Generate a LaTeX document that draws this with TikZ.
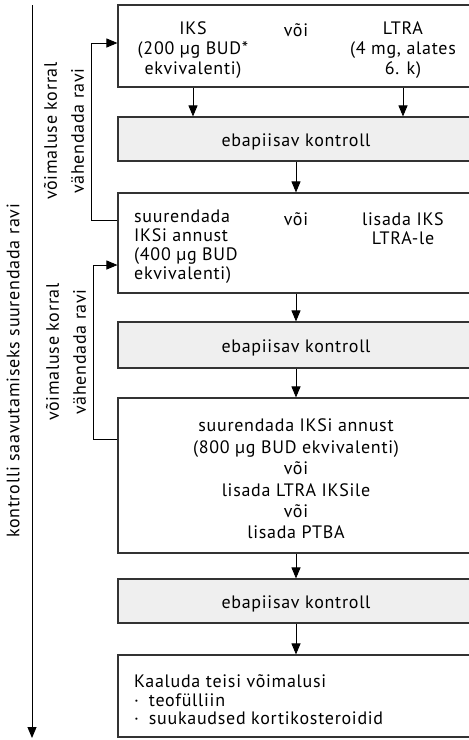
\documentclass[tikz,border=0pt]{standalone}
\usepackage{fontspec}
\setmainfont{PT Sans}[LetterSpace=4]
\usetikzlibrary{arrows.meta}
\definecolor{lineclr}{HTML}{333333}
\definecolor{grayfill}{HTML}{EFEFEF}
\newcommand{\fs}[1]{\fontsize{18}{#1}\selectfont}
\tikzset{
  box/.style={draw=lineclr, line width=1.1pt, rectangle, minimum width=356pt, inner sep=0pt},
  graybox/.style={box, fill=grayfill},
  txt/.style={font=\fs{20}, inner sep=0pt, align=center},
  txtl/.style={font=\fs{19}, inner sep=0pt, align=left},
  arr/.style={draw=black, line width=0.9pt, -{Triangle[length=11pt,width=9pt]}},
  side/.style={font=\fs{27}, inner sep=0pt, align=center, rotate=90},
}
\begin{document}
\begin{tikzpicture}[x=1pt, y=-1pt]
\useasboundingbox (0,0) rectangle (469,740);
% boxes
\node[box, minimum height=82pt] (b1) at (296,46) {};
\node[graybox, minimum height=44pt] (g1) at (296,139) {};
\node[box, minimum height=100pt] (b2) at (296,243) {};
\node[graybox, minimum height=46pt] (g2) at (296,345) {};
\node[box, minimum height=155pt] (b3) at (296,475.5) {};
\node[graybox, minimum height=44pt] (g3) at (296,601) {};
\node[box, minimum height=82pt] (b4) at (296,696) {};
% texts box 1
\node[txt] (iks) at (193,50) {IKS\\(200 µg BUD*\\ekvivalenti)};
\node[txt] (voi1) at (296,30) {või};
\node[txt] (ltra) at (403,50) {LTRA\\(4 mg, alates\\6. k)};
% gray texts
\node[txt] (e1) at (296,142) {ebapiisav kontroll};
\node[txt] (e2) at (296,348) {ebapiisav kontroll};
\node[txt] (e3) at (296,604) {ebapiisav kontroll};
% box 2 texts
\node[txtl, anchor=west] (sur) at (134,247) {suurendada\\IKSi annust\\(400 µg BUD\\ekvivalenti)};
\node[txt] (voi2) at (296,219) {või};
\node[txt, font=\fs{19}] (lis) at (403,229) {lisada IKS\\LTRA-le};
% box 3
\node[txt, font=\fs{21.4}] (b3t) at (296,479) {suurendada IKSi annust\\(800 µg BUD ekvivalenti)\\või\\lisada LTRA IKSile\\või\\lisada PTBA};
% box 4
\node[txtl, anchor=west, font=\fs{18.5}] (b4t) at (134,700) {Kaaluda teisi võimalusi\\·\hskip0.55em teofülliin\\·\hskip0.55em suukaudsed kortikosteroidid};
% vertical arrows
\draw[arr] (iks |- b1.south) -- (iks |- g1.north);
\draw[arr] (ltra |- b1.south) -- (ltra |- g1.north);
\draw[arr] (g1.south) -- (b2.north);
\draw[arr] (b2.south) -- (g2.north);
\draw[arr] (g2.south) -- (b3.north);
\draw[arr] (b3.south) -- (g3.north);
\draw[arr] (g3.south) -- (b4.north);
% feedback loops
\coordinate (l1a) at (91,220);
\coordinate (l1b) at (91,43);
\draw[arr] (b2.west |- l1a) -- (l1a) -- (l1b) -- (b1.west |- l1b);
\coordinate (l2a) at (93,439);
\coordinate (l2b) at (93,265);
\draw[arr] (b3.west |- l2a) -- (l2a) -- (l2b) -- (b2.west |- l2b);
\node[side] (s1) at (64,131) {võimaluse korral\\vähendada ravi};
\node[side] (s2) at (66,352) {võimaluse korral\\vähendada ravi};
% long arrow
\coordinate (lt) at (32,5);
\coordinate (lb) at (32,738);
\draw[arr] (lt) -- (lb);
\node[side] (main) at (13,371) {kontrolli saavutamiseks suurendada ravi};
\end{tikzpicture}
\end{document}
